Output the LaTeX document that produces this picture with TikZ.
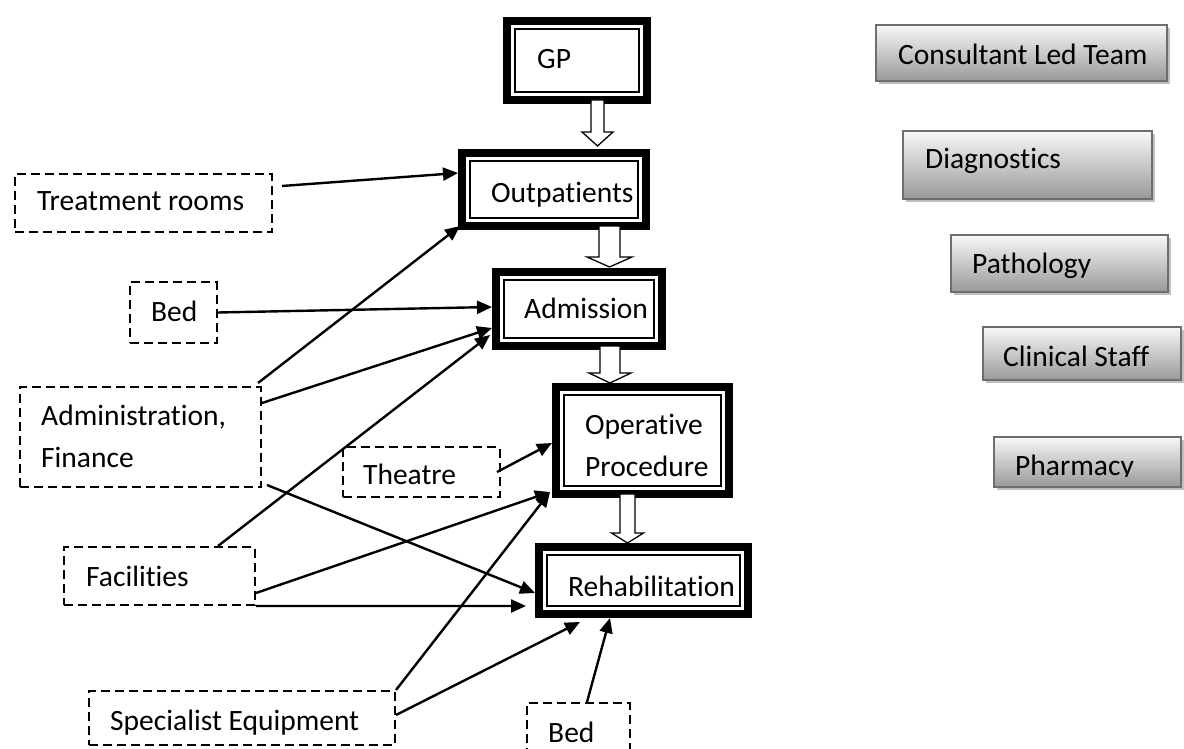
\documentclass[tikz,border=0pt]{standalone}
\usepackage{fontspec}
\setmainfont{Carlito}[Ligatures=CommonOff]
\usetikzlibrary{arrows.meta,shadows}
\newcommand{\placebox}[7]{\node[#1, minimum width={#6-#4-#3}, minimum height={#7-#5-#3}] (#2) at ({(#4+#6)/2},{(#5+#7)/2}) {};}
\newcommand{\blockarrow}[6]{\draw[barrow] (#1-#5,#2) -- (#1-#5,#3) -- (#1-#6,#3) -- (#1,#4) -- (#1+#6,#3) -- (#1+#5,#3) -- (#1+#5,#2) -- cycle;}
\begin{document}
\begin{tikzpicture}[x=1pt,y=-1pt,
  txt/.style={anchor=base west, inner sep=0pt, font=\fontsize{29.5}{35}\selectfont},
  mainbox/.style={draw, fill=white, line width=8pt, inner sep=0pt, outer sep=4pt},
  dbox/.style={draw, line width=2.3pt, dash pattern=on 9pt off 5pt, inner sep=0pt, outer sep=1.15pt},
  gbox/.style={draw=black!57, line width=2pt, inner sep=0pt, outer sep=1pt, top color=black!3, bottom color=black!40, drop shadow={shadow xshift=3pt, shadow yshift=-3pt, fill=black!25, opacity=1}},
  innerline/.style={line width=2.2pt},
  barrow/.style={draw, fill=white, line width=1.3pt, line join=miter},
  conn/.style={line width=2.4pt, -{Triangle[length=15pt, width=13pt]}}
]
\useasboundingbox (0,0) rectangle (1184,749);
\clip (0,0) rectangle (1184,749);

% dashed resource boxes
\placebox{dbox}{treat}{2.3}{14}{173}{273}{233}
\placebox{dbox}{bed1}{2.3}{129}{281}{218}{344}
\placebox{dbox}{admin}{2.3}{19}{386}{262}{488}
\placebox{dbox}{theatre}{2.3}{342}{446}{501}{498}
\placebox{dbox}{fac}{2.3}{63}{546}{256}{606}
\placebox{dbox}{spec}{2.3}{88}{690}{396}{746}
\placebox{dbox}{bed2}{2.3}{526}{702}{631}{762}

% main pathway boxes
\placebox{mainbox}{gp}{8}{503}{17}{651}{104}
\placebox{mainbox}{out}{8}{458}{149}{650}{230}
\placebox{mainbox}{adm}{8}{492}{268}{666}{350}
\placebox{mainbox}{op}{8}{552}{383}{733}{498}
\placebox{mainbox}{reh}{8}{535}{543}{752}{618}
\foreach \n in {gp,out,adm,op,reh}
  \draw[innerline] ([shift={(12,12)}]\n.north west) rectangle ([shift={(-12,-12)}]\n.south east);

% grey boxes
\placebox{gbox}{cons}{2}{875}{24}{1168}{82}
\placebox{gbox}{diag}{2}{902}{130}{1153}{200}
\placebox{gbox}{path}{2}{950}{234}{1169}{293}
\placebox{gbox}{clin}{2}{982}{326}{1182}{381}
\placebox{gbox}{pharm}{2}{993}{436}{1182}{488}

% block arrows
\blockarrow{597.5}{100}{132}{146}{6.5}{15.5}
\blockarrow{609.5}{226}{257}{267}{10.5}{22.5}
\blockarrow{610}{346}{373}{383}{10}{21}
\blockarrow{627.5}{494}{533}{543}{7.5}{16}

% texts
\node[txt] (gpT) at (537,69) {GP};
\node[txt] (outT) at (491,203) {Outpatients};
\node[txt] (admT) at (524,318) {Admission};
\node[txt] (opT1) at (585,434) {Operative};
\node[txt] (opT2) at (585,476) {Procedure};
\node[txt] (rehT) at (568,596) {Rehabilitation};
\node[txt] (treatT) at (37,211) {Treatment rooms};
\node[txt] (bed1T) at (151,321) {Bed};
\node[txt] (adminT1) at (41,425) {Administration,};
\node[txt] (adminT2) at (41,467) {Finance};
\node[txt] (theatreT) at (363,484) {Theatre};
\node[txt] (facT) at (86,586) {Facilities};
\node[txt] (specT) at (110,730) {Specialist Equipment};
\node[txt] (bed2T) at (548,742) {Bed};
\node[txt] (consT) at (898,65) {Consultant Led Team};
\node[txt] (diagT) at (925,169) {Diagnostics};
\node[txt] (pathT) at (972,273) {Pathology};
\node[txt] (clinT) at (1003,366) {Clinical Staff};
\begin{scope}
\clip (993,436) rectangle (1182,476);
\node[txt] (pharmT) at (1015,475) {Pharmacy};
\end{scope}

% connectors
\draw[conn] ([shift={(9,-17)}]treat.east) -- ([shift={(0,24)}]out.north west);
\draw[conn] (bed1.east) -- ([shift={(0,-2)}]adm.west);
\draw[conn] ([shift={(-4,-3)}]admin.north east) -- ([shift={(2,-4)}]out.south west);
\draw[conn] ([shift={(0,17)}]admin.north east) -- ([shift={(0,-22)}]adm.south west);
\draw[conn] ([shift={(5,-3)}]admin.south east) -- ([shift={(0,-25)}]reh.south west);
\draw[conn] ([shift={(-4,0)}]theatre.east) -- ([shift={(0,2.5)}]op.west);
\draw[conn] ([shift={(-38,0)}]fac.north east) -- ([shift={(-2,-15)}]adm.south west);
\draw[conn] ([shift={(0,17)}]fac.east) -- ([shift={(-2,-6)}]op.south west);
\draw[conn] (fac.south east) -- ([shift={(-9,-12)}]reh.south west);
\draw[conn] (spec.north east) -- ([shift={(-2,-6)}]op.south west);
\draw[conn] ([shift={(0,-3)}]spec.east) -- ([shift={(45,4)}]reh.south west);
\draw[conn] ([shift={(8.5,0)}]bed2.north) -- ([shift={(75,0)}]reh.south west);
\end{tikzpicture}
\end{document}
